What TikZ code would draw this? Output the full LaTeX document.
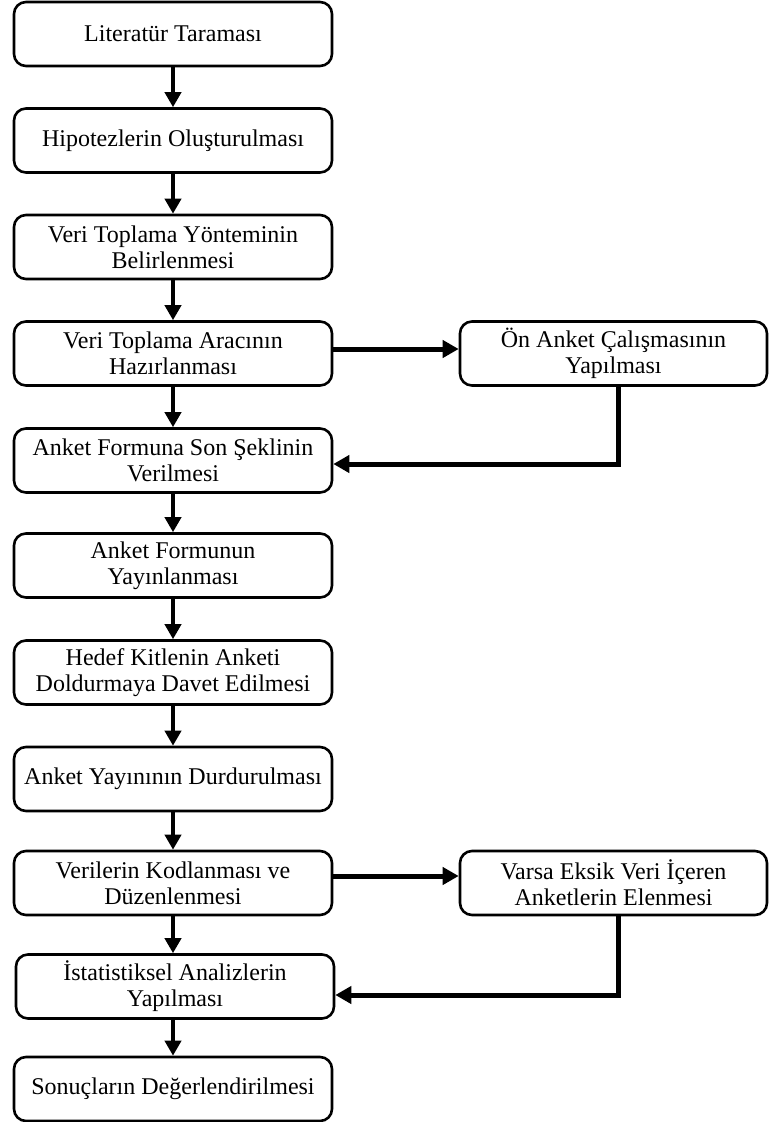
\documentclass[tikz,border=0pt]{standalone}
\usepackage{fontspec}
\setmainfont{Liberation Serif}
\usetikzlibrary{arrows.meta}
\begin{document}
\begin{tikzpicture}[x=1pt,y=-1pt,
  box/.style={draw, line width=2.6pt, rounded corners=12pt, minimum height=64pt,
    align=center, inner sep=0pt, font=\fontsize{24}{26}\selectfont},
  lbox/.style={box, minimum width=318pt},
  rbox/.style={box, minimum width=307pt},
  flow/.style={line width=4pt, -{Triangle[length=15pt,width=16pt]}},
  side/.style={line width=5pt, -{Triangle[length=16pt,width=17pt]}}]
\useasboundingbox (0,0) rectangle (771,1122);

% main column
\node[lbox] (n1)  at (173,34)    {Literatür Taraması};
\node[lbox] (n2)  at (173,140.5) {Hipotezlerin Oluşturulması};
\node[lbox] (n3)  at (173,247)   {Veri Toplama Yönteminin\\Belirlenmesi};
\node[lbox] (n4)  at (173,353.5) {Veri Toplama Aracının\\Hazırlanması};
\node[lbox] (n5)  at (173,460.5) {Anket Formuna Son Şeklinin\\Verilmesi};
\node[lbox] (n6)  at (173,565.5) {Anket Formunun\\Yayınlanması};
\node[lbox] (n7)  at (173,672.5) {Hedef Kitlenin Anketi\\Doldurmaya Davet Edilmesi};
\node[lbox] (n8)  at (173,779)   {Anket Yayınının Durdurulması};
\node[lbox] (n9)  at (173,883)   {Verilerin Kodlanması ve\\Düzenlenmesi};
\node[lbox] (n10) at (175,986.5) {İstatistiksel Analizlerin\\Yapılması};
\node[lbox] (n11) at (173,1089)  {Sonuçların Değerlendirilmesi};

% side steps
\node[rbox] (r1) at (613.5,353.5) {Ön Anket Çalışmasının\\Yapılması};
\node[rbox] (r2) at (613.5,883)   {Varsa Eksik Veri İçeren\\Anketlerin Elenmesi};

% main flow
\draw[flow] (n1) -- (n2);
\draw[flow] (n2) -- (n3);
\draw[flow] (n3) -- (n4);
\draw[flow] (n4) -- (n5);
\draw[flow] (n5) -- (n6);
\draw[flow] (n6) -- (n7);
\draw[flow] (n7) -- (n8);
\draw[flow] (n8) -- (n9);
\draw[flow] (n9.south) -- (n9.south |- n10.north);
\draw[flow] (n10.south -| n11.north) -- (n11.north);

% branches to the side steps and back
\draw[side] ([yshift=4.5pt]n4.east) -- ([yshift=4.5pt]r1.west);
\draw[side] ([xshift=4.5pt]r1.south) |- ([yshift=-3.5pt]n5.east);
\draw[side] ([yshift=7pt]n9.east) -- ([yshift=7pt]r2.west);
\draw[side] ([xshift=4.5pt]r2.south) |- ([yshift=-8.5pt]n10.east);
\end{tikzpicture}
\end{document}
